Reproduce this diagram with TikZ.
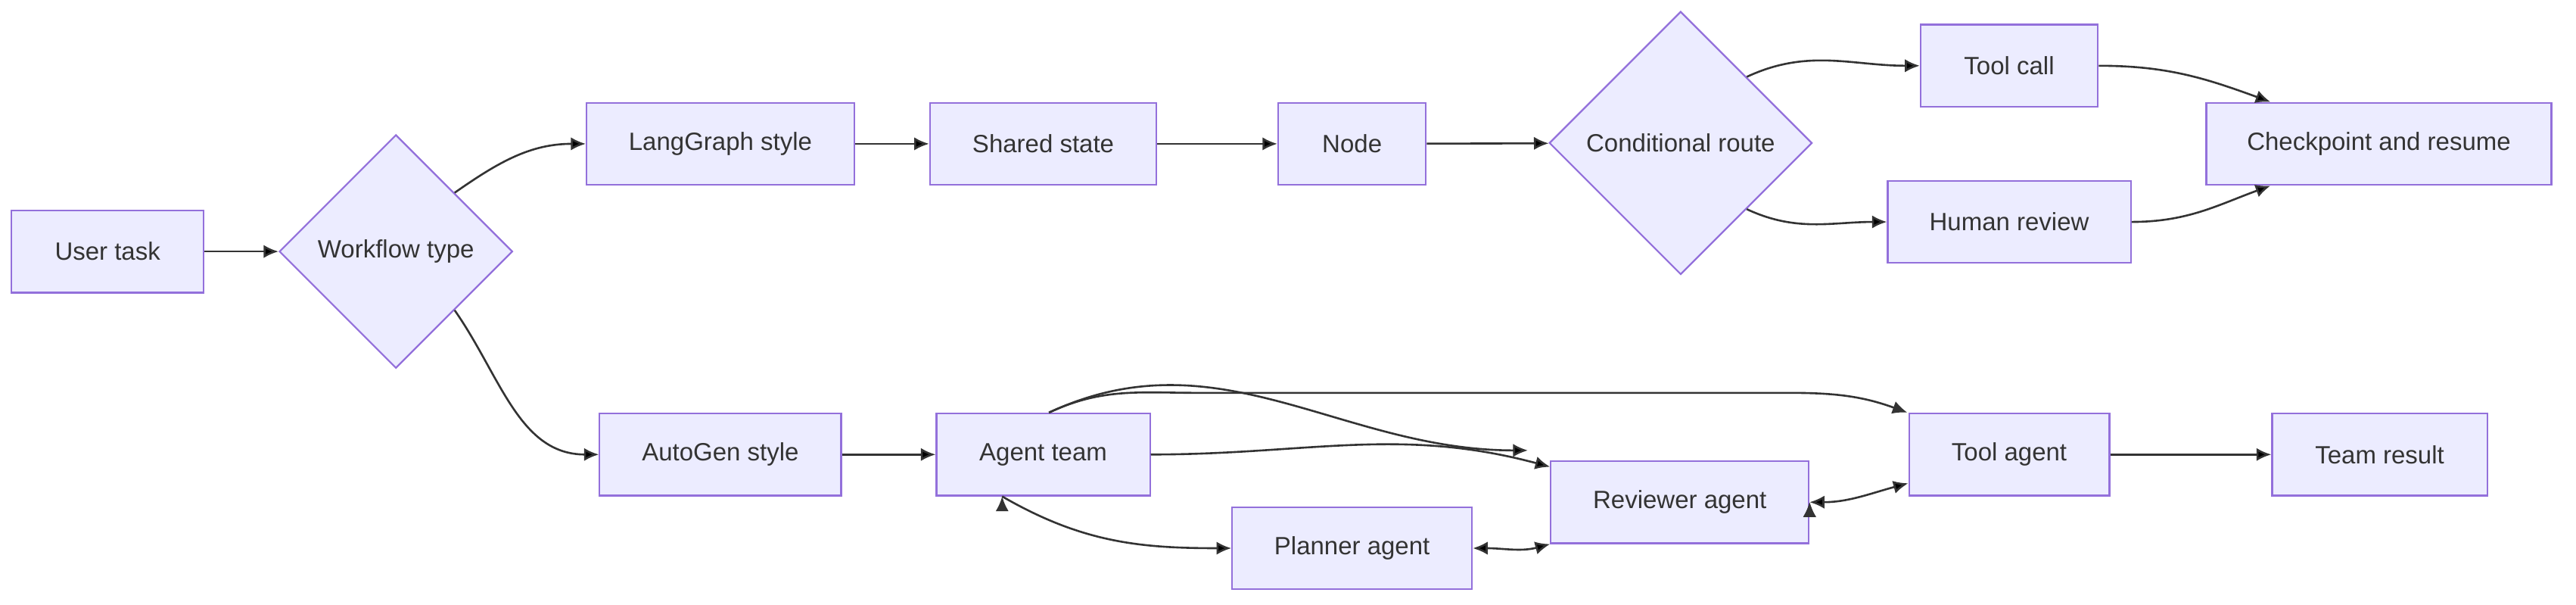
\documentclass[tikz,border=0pt]{standalone}
\usepackage{fontspec}
\setmainfont{Liberation Sans}
\usetikzlibrary{shapes.geometric,arrows.meta}
\definecolor{boxfill}{HTML}{ECECFF}
\definecolor{boxline}{HTML}{9370DB}
\definecolor{edgecol}{HTML}{333333}
\begin{document}
\begin{tikzpicture}[x=0.5pt,y=-0.5pt,
   box/.style={draw=boxline,fill=boxfill,line width=0.5pt,minimum height=25pt,inner sep=0pt,font=\fontsize{7.6}{9}\selectfont,text=edgecol},
   choice/.style={draw=boxline,fill=boxfill,line width=0.5pt,diamond,inner sep=0pt,font=\fontsize{7.6}{9}\selectfont,text=edgecol},
   link/.style={draw=edgecol,line width=0.6pt,-{Latex[length=4.5pt,width=4pt]}},
   both/.style={draw=edgecol,line width=0.6pt,{Latex[length=4.5pt,width=4pt]}-{Latex[length=4.5pt,width=4pt]}}]
   \useasboundingbox (0,0) rectangle (1568,368);
         \node[box,name=task,minimum width=58.5pt] at (65.5,153) {User task};
         \node[choice,name=kind,minimum width=71pt,minimum height=71pt] at (241,153) {Workflow type};
         \node[box,name=lg,minimum width=81.5pt] at (438.5,87.5) {LangGraph style};
         \node[box,name=state,minimum width=69pt] at (635,87.5) {Shared state};
         \node[box,name=gnode,minimum width=45pt] at (823,87.5) {Node};
         \node[choice,name=route,minimum width=80pt,minimum height=80pt] at (1023,87) {Conditional route};
         \node[box,name=tcall,minimum width=54pt] at (1223,40) {Tool call};
         \node[box,name=human,minimum width=74pt] at (1223,135) {Human review};
         \node[box,name=ckpt,minimum width=105pt] at (1448,87.5) {Checkpoint and resume};
         \node[box,name=ag,minimum width=73.5pt] at (438.5,276.5) {AutoGen style};
         \node[box,name=team,minimum width=65pt] at (635,276.5) {Agent team};
         \node[box,name=plan,minimum width=73pt] at (823,333.5) {Planner agent};
         \node[box,name=rev,minimum width=78.5pt] at (1022.5,305.5) {Reviewer agent};
         \node[box,name=tagent,minimum width=61pt] at (1223,276.5) {Tool agent};
         \node[box,name=result,minimum width=65.5pt] at (1448.5,276.5) {Team result};

         \path[link]
            (task) edge (kind)
            (kind.north east) edge[out=35,in=180] (lg.west)
            (kind.south east) edge[out=-55,in=180] (ag.west)
            (lg)  edge (state)
            (state) edge (gnode)
            (gnode) edge (route)
            (route.north east) edge[out=25,in=180] (tcall.west)
            (route.south east) edge[out=-25,in=180] (human.west)
            (tcall.east) edge[out=0,in=160] ([xshift=-33pt]ckpt.north)
            (human.east) edge[out=0,in=-160] ([xshift=-33pt]ckpt.south)
            (ag) edge (team)
            ([xshift=-31pt]team.north east) edge[out=25,in=180] ([yshift=-12pt]930,250) 
            (team.east) edge[out=0,in=165] ([yshift=-2pt]rev.north west)
            ([xshift=-12.5pt]team.south) edge[out=-30,in=180] (plan.west)
            (tagent) edge (result);
         \draw[link] ([xshift=-31pt]team.north east) to[out=25,in=180] (730,239) -- (1090,239) to[out=0,in=160] ([xshift=-31pt]tagent.north);
         \path[both]
            (plan.east) edge[out=0,in=-165] (rev.south west)
            (rev.east) edge[out=0,in=-165] ([yshift=4pt]tagent.south west);
      \end{tikzpicture}
\end{document}
